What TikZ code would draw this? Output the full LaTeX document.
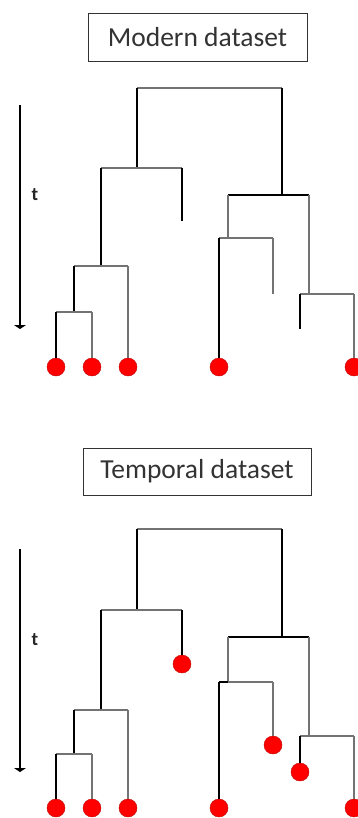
\documentclass[tikz,border=0pt]{standalone}
\usepackage{fontspec}
\setmainfont{Carlito}
\usetikzlibrary{arrows.meta}
\tikzset{
  blk/.style={draw=black, line width=1.2pt},
  gry/.style={draw=black!55, line width=1.1pt},
  leaf/.style={circle, fill=red, draw=red!75!black, line width=0.4pt, minimum size=18pt, inner sep=0pt},
  title/.style={draw=black!80, line width=0.9pt, font=\fontsize{27.5}{30}\selectfont, text=black!80, inner sep=0pt},
  timearrow/.style={draw=black, line width=1.2pt, -{Triangle[width=12pt,length=4pt]}},
  tlabel/.style={font=\fontsize{19}{21}\selectfont\bfseries, text=black!85}
}
\newcommand\elbow[4]{\draw[#1] (#3) -- (#3 -| #4); \draw[#2] (#3 -| #4) -- (#4);}
\begin{document}
\begin{tikzpicture}[x=1pt,y=-1pt]
\useasboundingbox (0,0) rectangle (358,818);
\clip (0,0) rectangle (358,818);
% ---------- Modern dataset ----------
\node[title, minimum width=219pt, minimum height=48pt] (box1) at (197.5,37) {Modern dataset};
\coordinate (tA1) at (20,105);
\coordinate (tB1) at (20,329);
\draw[timearrow] (tA1) -- (tB1);
\node[tlabel] (t1) at (35,195) {t};
\coordinate (root1) at (209.5,88);
\coordinate (a1) at (137,168);
\coordinate (r1) at (282,195);
\coordinate (b1) at (101,266);
\coordinate (s11) at (182,221);
\coordinate (c1) at (74,312);
\coordinate (d1) at (228,238);
\coordinate (e1) at (309,294);
\coordinate (s21) at (273,294);
\coordinate (s31) at (300,329);
\node[leaf] (l11) at (56,367) {};
\node[leaf] (l21) at (92,367) {};
\node[leaf] (l31) at (128,367) {};
\node[leaf] (l41) at (219,367) {};
\node[leaf] (l51) at (354,367) {};
\elbow{gry}{blk}{root1}{a1}
\elbow{gry}{blk}{root1}{r1}
\elbow{gry}{blk}{a1}{b1}
\elbow{gry}{blk}{a1}{s11}
\elbow{gry}{blk}{b1}{c1}
\elbow{gry}{gry}{b1}{l31}
\elbow{gry}{blk}{c1}{l11}
\elbow{gry}{gry}{c1}{l21}
\elbow{blk}{gry}{r1}{d1}
\elbow{blk}{gry}{r1}{e1}
\elbow{gry}{blk}{d1}{l41}
\elbow{gry}{gry}{d1}{s21}
\elbow{gry}{blk}{e1}{s31}
\elbow{gry}{gry}{e1}{l51}
% ---------- Temporal dataset ----------
\node[title, minimum width=228pt, minimum height=47pt] (box2) at (197,471.5) {Temporal dataset};
\coordinate (tA2) at (20,549);
\coordinate (tB2) at (20,772);
\draw[timearrow] (tA2) -- (tB2);
\node[tlabel] (t2) at (35,640) {t};
\coordinate (root2) at (209.5,529);
\coordinate (a2) at (137,610);
\coordinate (r2) at (282,637);
\coordinate (b2) at (101,710);
\coordinate (c2) at (74,754);
\coordinate (d2) at (228,682);
\coordinate (e2) at (309,736);
\node[leaf] (s12) at (182,664) {};
\node[leaf] (s22) at (273,745) {};
\node[leaf] (s32) at (300,772) {};
\node[leaf] (l12) at (56,808) {};
\node[leaf] (l22) at (92,808) {};
\node[leaf] (l32) at (128,808) {};
\node[leaf] (l42) at (219,808) {};
\node[leaf] (l52) at (354,808) {};
\elbow{gry}{blk}{root2}{a2}
\elbow{gry}{blk}{root2}{r2}
\elbow{gry}{blk}{a2}{b2}
\elbow{gry}{blk}{a2}{s12}
\elbow{gry}{blk}{b2}{c2}
\elbow{gry}{gry}{b2}{l32}
\elbow{gry}{blk}{c2}{l12}
\elbow{gry}{gry}{c2}{l22}
\elbow{blk}{gry}{r2}{d2}
\elbow{blk}{gry}{r2}{e2}
\elbow{blk}{blk}{d2}{l42}
\elbow{gry}{gry}{d2}{s22}
\elbow{gry}{blk}{e2}{s32}
\elbow{gry}{gry}{e2}{l52}
\end{tikzpicture}
\end{document}
